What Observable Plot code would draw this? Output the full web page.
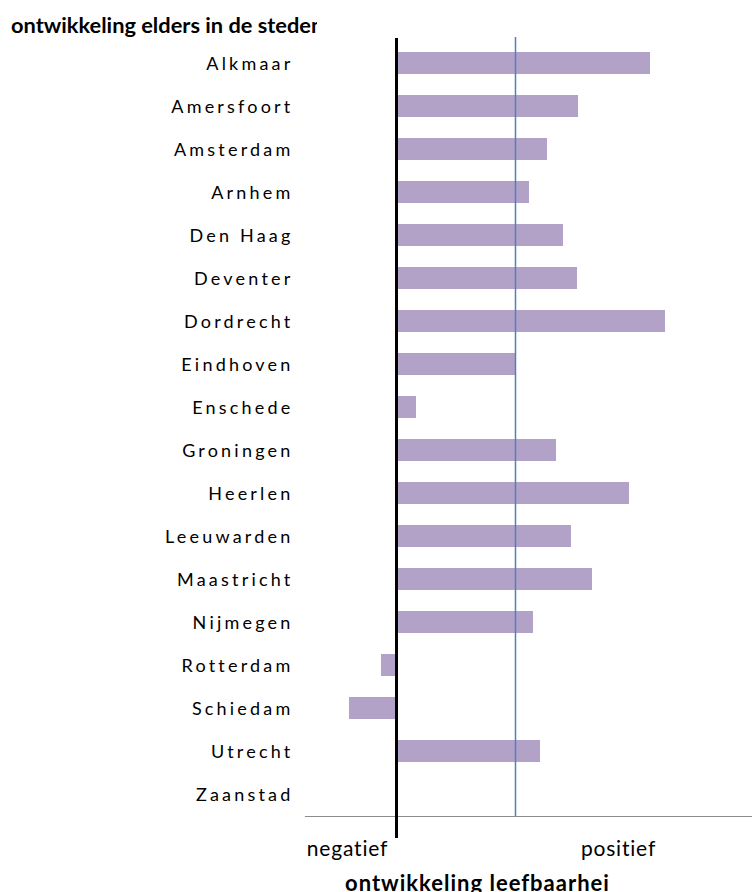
<!DOCTYPE html>
<html>
<head>
<meta charset="utf-8">
<script src="https://cdn.jsdelivr.net/npm/d3@7"></script>
<script src="https://cdn.jsdelivr.net/npm/@observablehq/plot@0.6"></script>
<style>
  html, body { margin: 0; padding: 0; background: #fff; overflow: hidden; }
  #wrap { width: 752px; height: 892px; overflow: hidden; }
  #title { font-family: Lato, "Open Sans", sans-serif; font-weight: bold; font-size: 21.8px;
           height: 37px; line-height: 50px; padding-left: 11px; width: 306px;
           overflow: hidden; white-space: nowrap; color: #000; }
  #caption { font-family: Lato, "Open Sans", sans-serif; font-weight: bold; font-size: 22px;
             letter-spacing: 1px; margin-left: 345px; width: 264px; overflow: hidden;
             margin-top: 3px; white-space: nowrap; color: #000; }
  svg [aria-label="y-axis tick label"] text { letter-spacing: 3.2px; }
  svg [aria-label="x-axis tick label"] text { letter-spacing: 0.8px; }
</style>
</head>
<body>
<div id="wrap">
  <div id="title">ontwikkeling elders in de steden</div>
  <div id="chart"></div>
  <div id="caption">ontwikkeling leefbaarheid</div>
</div>
<script>
const cities = ["Alkmaar","Amersfoort","Amsterdam","Arnhem","Den Haag","Deventer","Dordrecht",
  "Eindhoven","Enschede","Groningen","Heerlen","Leeuwarden","Maastricht","Nijmegen",
  "Rotterdam","Schiedam","Utrecht","Zaanstad"];
const values = [2.54, 1.82, 1.51, 1.33, 1.67, 1.81, 2.69, 1.20, 0.20, 1.60, 2.33, 1.75, 1.96, 1.37,
  -0.15, -0.47, 1.44, 0];
const referenceValue = [1.19];
const endLabels = ["negatief", "positief"];
const endLabelPositions = [-0.49, 2.22];

const data = cities.map((c, i) => ({city: c, value: values[i]}));

const chart = Plot.plot({
  width: 752,
  height: 829,
  marginLeft: 305,
  marginRight: 0,
  marginTop: 0,
  marginBottom: 50,
  style: {fontFamily: "Lato, 'Open Sans', sans-serif", color: "#000", background: "#fff"},
  x: {domain: [-0.91, 3.56], axis: null},
  y: {domain: cities, range: [0.5, 782], paddingInner: 0.49, paddingOuter: 0.245, axis: null},
  marks: [
    Plot.frame({anchor: "bottom", stroke: "#8c8c8c", strokeWidth: 1.2}),
    Plot.barX(data, {x: "value", y: "city", fill: "#b3a2c7"}),
    Plot.ruleX(referenceValue, {stroke: "#4f81bd", strokeWidth: 1.5}),
    Plot.ruleX([0], {stroke: "#000", strokeWidth: 3, insetTop: 1, insetBottom: -22}),
    Plot.axisY({tickSize: 0, tickPadding: 12, fontSize: 18, dy: 1, fill: "#000", label: null}),
    Plot.axisX(endLabelPositions, {tickSize: 0, tickPadding: 25, fontSize: 21, fill: "#000", label: null,
      tickFormat: d => endLabels[endLabelPositions.indexOf(d)]})
  ]
});
document.getElementById("chart").appendChild(chart);
</script>
</body>
</html>
